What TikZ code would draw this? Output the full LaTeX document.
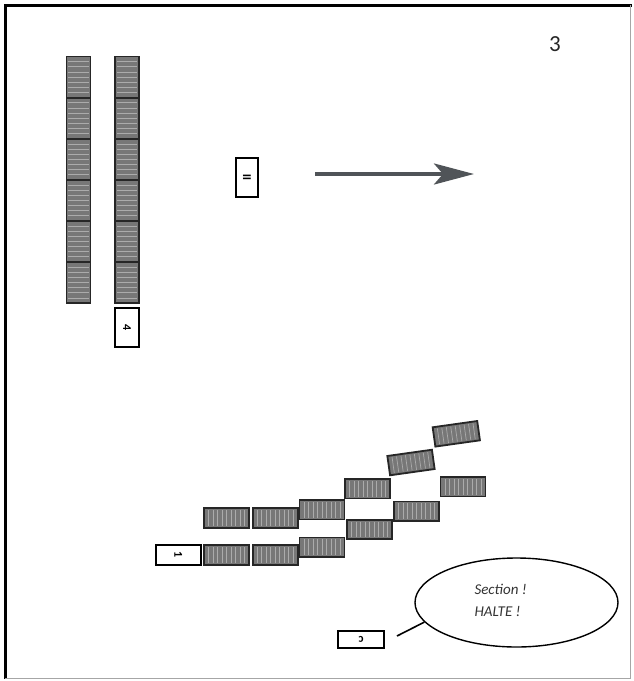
\documentclass[tikz,border=0pt]{standalone}
\usepackage{fontspec}
\setmainfont{Carlito}
\usetikzlibrary{calc,shapes.geometric,arrows.meta}
\definecolor{unitgray}{HTML}{777777}
\definecolor{stripegray}{HTML}{ABABAB}
\definecolor{arrowgray}{HTML}{505458}
\tikzset{
  unit/.style={draw=black!85, line width=1.8pt, fill=unitgray, inner sep=0pt, outer sep=0pt},
  colunit/.style={unit, minimum width=24pt, minimum height=41pt},
  rowunit/.style={unit, minimum width=45pt, minimum height=19.5pt},
  markbox/.style={draw=black, line width=1.7pt, fill=white, inner sep=0pt, outer sep=0pt, font=\fontsize{12}{12}\selectfont\bfseries},
  stripe/.style={stripegray, line width=0.7pt, shorten >=1.8pt, shorten <=1.8pt},
  frameline/.style={line width=3pt, black},
  thinframe/.style={line width=1.2pt, gray!70},
}
\newcommand\hstripes[1]{\foreach \t in {1,...,7}{\draw[stripe] ($(#1.north west)!{\t/8}!(#1.south west)$) -- ($(#1.north east)!{\t/8}!(#1.south east)$);}}
\newcommand\vstripes[1]{\foreach \t in {1,...,9}{\draw[stripe] ($(#1.north west)!{\t/10}!(#1.north east)$) -- ($(#1.south west)!{\t/10}!(#1.south east)$);}}
\begin{document}
\begin{tikzpicture}[x=1pt,y=-1pt]
\useasboundingbox (0,0) rectangle (634,681);
% frame
\draw[frameline] (4,5.5) -- (632,5.5);
\draw[frameline] (5.5,4) -- (5.5,679);
\draw[thinframe] (630.5,5) -- (630.5,679);
\draw[thinframe] (5,678.5) -- (631,678.5);
% page number
\node[font=\fontsize{23}{23}\selectfont, text=black!85] (pnum) at (555,44) {3};
% left column
\foreach \i/\y in {1/77.05,2/118.15,3/159.25,4/200.35,5/241.45,6/282.55}{
  \node[colunit] (L\i) at (78.5,\y) {};
  \hstripes{L\i}
  \node[colunit] (R\i) at (127,\y) {};
  \hstripes{R\i}
}
\node[markbox, minimum width=39pt, minimum height=24pt, rotate=-90] (m2) at (127,327.5) {4};
% marker II
\node[markbox, minimum width=39pt, minimum height=22pt, rotate=90] (mII) at (247,177.5) {II};
% arrow
\coordinate (arrS) at (315,174);
\coordinate (arrE) at (474,174);
\draw[arrowgray, line width=4pt, -{Stealth[length=40pt,width=21pt,inset=9pt]}] (arrS) -- (arrE);
% bottom formation
\node[markbox, minimum width=45pt, minimum height=20pt] (m1) at (178.3,554.7) {\rotatebox{-90}{1}};
\foreach \n/\x/\y/\r in {
  B1/226.7/555/0, B2/275.2/555/0, B3/322/547.2/0, B4/369.8/529.5/0, B5/416.8/511.3/0, B6/463/486.7/0,
  U1/226.7/518/0, U2/275.2/518/0, U3/322/509.7/0, U4/367.7/488.8/0, U5/411/462.5/8, U6/456.3/433.8/8}{
  \node[rowunit, rotate=\r] (\n) at (\x,\y) {};
  \vstripes{\n}
}
% speech bubble
\node[draw=black, line width=1.4pt, ellipse, minimum width=203pt, minimum height=89pt, inner sep=0pt] (bubble) at (516.5,602.5) {};
\node[font=\fontsize{15}{22}\selectfont\itshape, align=left, anchor=west, text=black!80] (msg) at (471,600) {Section !\\HALTE !};
\node[markbox, minimum width=46pt, minimum height=17pt] (m3) at (361,639.5) {\rotatebox{180}{c}};
\coordinate (talk) at (397,636);
\draw[line width=1.6pt] (talk) -- (bubble.192);
\end{tikzpicture}
\end{document}
